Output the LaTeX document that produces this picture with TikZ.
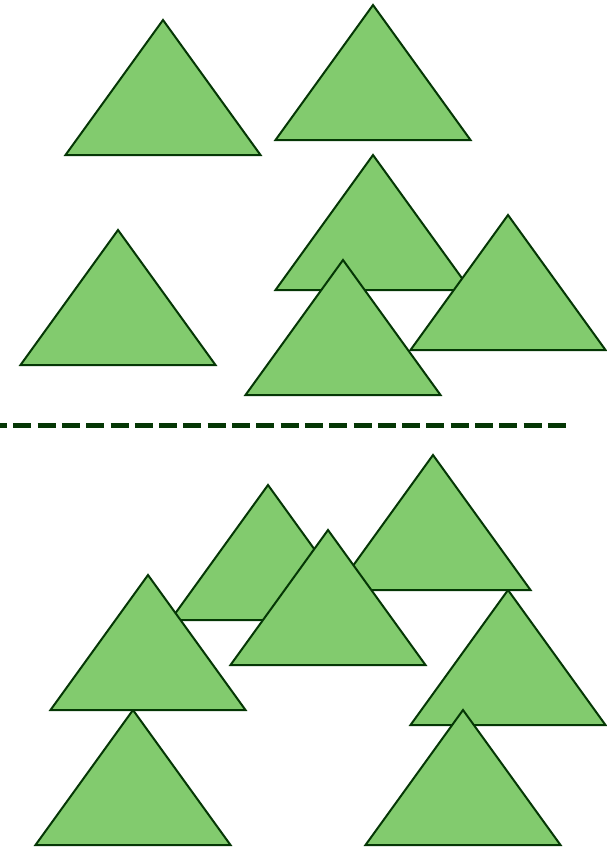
\documentclass[tikz,border=0pt]{standalone}
\definecolor{trifill}{RGB}{130,203,110}
\definecolor{tristroke}{RGB}{5,55,5}
\definecolor{dashcol}{RGB}{5,55,5}
\tikzset{
  tri/.style={fill=trifill, draw=tristroke, line width=2pt, line join=miter},
}
\newcommand{\mytri}[2]{% apex x, apex y
  \draw[tri] (#1,#2) -- ++(97.5,135) -- ++(-195,0) -- cycle;}
\begin{document}
\begin{tikzpicture}[x=1pt,y=-1pt]
\useasboundingbox (0,0) rectangle (606,851);
% top group
\mytri{163}{20}
\mytri{373}{5}
\mytri{373}{155}
\mytri{118}{230}
\mytri{508}{215}
\mytri{343}{260}
% separator
\begin{scope}
\clip (0,0) rectangle (606,851);
\draw[dashcol, line width=5pt, dash pattern=on 18pt off 6.3pt] (-11,425.5) -- (567,425.5);
\end{scope}
% bottom group
\mytri{508}{590}
\mytri{133}{710}
\mytri{268}{485}
\mytri{433}{455}
\mytri{328}{530}
\mytri{148}{575}
\mytri{463}{710}
\end{tikzpicture}
\end{document}
